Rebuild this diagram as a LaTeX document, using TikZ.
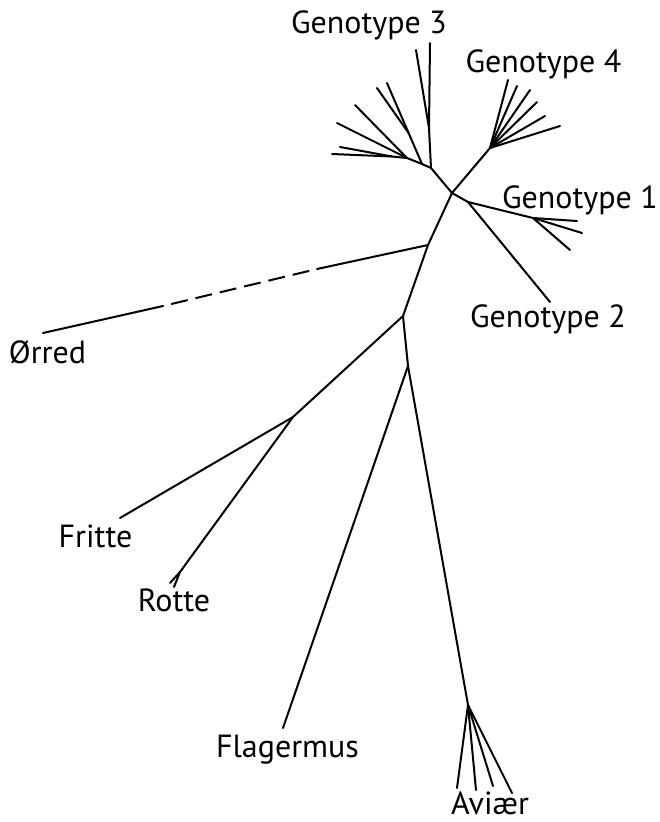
\documentclass[tikz,border=0pt]{standalone}
\usepackage{fontspec}
\setmainfont{PT Sans}
\begin{document}
\begin{tikzpicture}[x=1pt,y=-1pt,
    branch/.style={line width=2pt, line cap=round, line join=round},
    taxon/.style={font=\fontsize{32}{34}\selectfont, inner sep=0pt, anchor=base}]
\useasboundingbox (0,0) rectangle (659,822);

% inner junctions
\coordinate (root) at (452,193);
\coordinate (orjunc) at (428,245);
\coordinate (frjunc) at (403,316);
\coordinate (flav) at (408,366);
\coordinate (rjunc) at (293,417);

% genotype 3
\coordinate (g3base) at (431,168);
\coordinate (g3fan) at (422,164);
\coordinate (g3sub) at (408.6,133);
\coordinate (g3fanB) at (407,158);
\coordinate (g3subE) at (392,156.5);
\coordinate (g3mid) at (429,128);
\draw[branch] (root) -- (g3base) -- (g3fan) -- (g3sub) -- (387,83);
\draw[branch] (g3sub) -- (377,88);
\draw[branch] (g3fan) -- (g3fanB) -- (355,105);
\draw[branch] (g3fanB) -- (337,123);
\draw[branch] (g3fanB) -- (g3subE) -- (332,154);
\draw[branch] (g3subE) -- (340,147);
\draw[branch] (g3base) -- (g3mid) -- (430,43);
\draw[branch] (g3mid) -- (416,50);

% genotype 4
\coordinate (g4base) at (490,148);
\draw[branch] (root) -- (g4base);
\foreach \tip in {(508,80),(517,86),(530,90),(537,102),(545,116),(560,126)}
    \draw[branch] (g4base) -- \tip;

% genotype 1 og 2
\coordinate (g2junc) at (468,202);
\coordinate (g1base) at (533,218);
\draw[branch] (root) -- (g2junc) -- (g1base);
\foreach \tip in {(577,221),(582,233),(570,250)}
    \draw[branch] (g1base) -- \tip;
\draw[branch] (g2junc) -- (550,302);

% stamme
\draw[branch] (root) -- (orjunc) -- (frjunc) -- (flav);

% orred
\coordinate (orA) at (317,269);
\coordinate (orB) at (163,306);
\coordinate (ortip) at (43,333);
\draw[branch] (orjunc) -- (orA);
\draw[branch, line cap=butt, dash pattern=on 17pt off 8pt, dash phase=17pt] (orA) -- (orB);
\draw[branch] (orB) -- (ortip);

% fritte og rotte
\coordinate (rfork) at (180,572);
\draw[branch] (frjunc) -- (rjunc) -- (120,518);
\draw[branch] (rjunc) -- (rfork) -- (170,583);
\draw[branch] (rfork) -- (174,587);

% flagermus og aviaer
\coordinate (avjunc) at (468,705);
\draw[branch] (flav) -- (283,728);
\draw[branch] (flav) -- (avjunc);
\foreach \tip in {(457,788),(476,790),(493,786),(512,793)}
    \draw[branch] (avjunc) -- \tip;

% labels
\node[taxon] (g3) at (369,33) {Genotype 3};
\node[taxon] (g4) at (543.5,72) {Genotype 4};
\node[taxon] (g1) at (580,208) {Genotype 1};
\node[taxon] (g2) at (548,327) {Genotype 2};
\node[taxon] (or) at (47.5,363) {Ørred};
\node[taxon] (fritte) at (95.5,547) {Fritte};
\node[taxon] (rotte) at (174,611) {Rotte};
\node[taxon] (flag) at (287.5,757) {Flagermus};
\node[taxon] (av) at (490,814) {Aviær};
\end{tikzpicture}
\end{document}
